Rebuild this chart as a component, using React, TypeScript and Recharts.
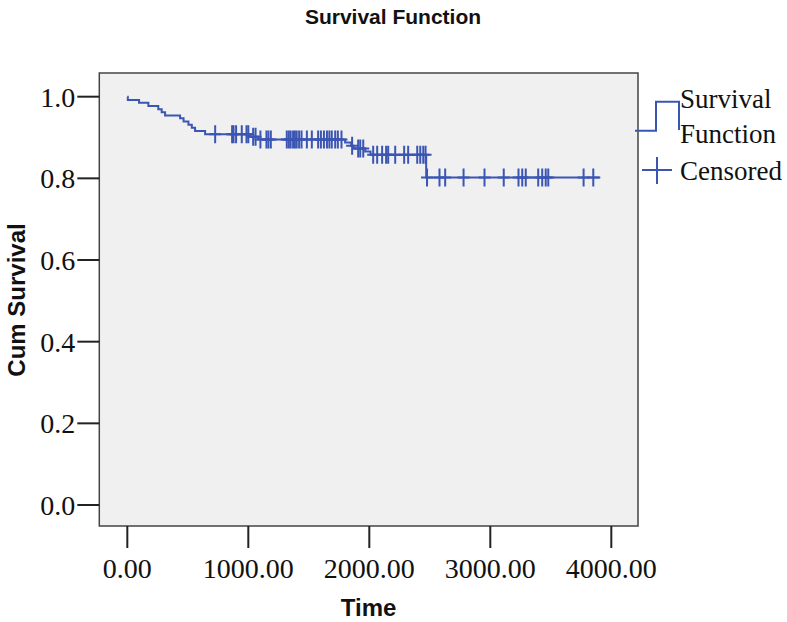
import React from 'react';
import { ComposedChart, Line, Scatter, XAxis, YAxis, ReferenceArea } from 'recharts';

// Kaplan-Meier step function (time of each step, survival after step)
const eventTimes = [0, 4, 97, 174, 256, 284, 312, 436, 465, 505, 533, 560, 643, 1015, 1081, 1800, 1850, 1870, 1966, 2010, 2470, 3909];
const survivalValues = [1.0, 0.992, 0.985, 0.977, 0.969, 0.962, 0.954, 0.947, 0.939, 0.931, 0.924, 0.916, 0.908, 0.902, 0.895, 0.888, 0.880, 0.873, 0.866, 0.858, 0.802, 0.802];

// Censored observation times
const censoredTimes = [
  726, 866, 878, 899, 946, 985, 1000, 1040, 1060, 1100, 1150, 1166, 1186,
  1318, 1335, 1350, 1370, 1385, 1400, 1420, 1440, 1484, 1525, 1577, 1600,
  1625, 1650, 1670, 1690, 1718, 1740, 1770, 1858, 1908, 1925, 1950, 2032,
  2065, 2106, 2139, 2156, 2214, 2288, 2321, 2396, 2421, 2446, 2465, 2477,
  2580, 2627, 2779, 2952, 3111, 3233, 3264, 3293, 3396, 3429, 3458, 3479,
  3771, 3851,
];

const xTicks = [0, 1000, 2000, 3000, 4000];
const yTicks = [0, 0.2, 0.4, 0.6, 0.8, 1.0];

const BLUE = '#3b55b3';

const survData = eventTimes.map((t, i) => ({ t, s: survivalValues[i] }));
const levelAt = (t: number) => {
  let s = survivalValues[0];
  for (let i = 0; i < eventTimes.length; i++) {
    if (eventTimes[i] <= t) s = survivalValues[i];
  }
  return s;
};
const censData = censoredTimes.map((t) => ({ t, s: levelAt(t) }));

const Cross = (props: any) => {
  const { cx, cy } = props;
  if (cx == null || cy == null) return null;
  return (
    <g>
      <line x1={cx - 6} x2={cx + 6} y1={cy} y2={cy} stroke={BLUE} strokeWidth={2} />
      <line x1={cx} x2={cx} y1={cy - 9} y2={cy + 9} stroke={BLUE} strokeWidth={2} />
    </g>
  );
};

const serif = 'Liberation Serif';
const sans = 'Liberation Sans';

export default function App() {
  return (
    <div style={{ position: 'absolute', left: 0, top: 0, width: 787, height: 622, background: '#fff' }}>
      <ComposedChart width={787} height={622} margin={{ top: 73, right: 149, bottom: 0, left: 0 }}>
        <XAxis
          type="number"
          dataKey="t"
          domain={[-231.5, 4220.6]}
          allowDataOverflow
          ticks={xTicks}
          tickFormatter={(v: number) => v.toFixed(2)}
          height={96}
          axisLine={false}
          tickSize={22}
          tickMargin={10}
          tickLine={{ stroke: '#222', strokeWidth: 2 }}
          tick={{ fontFamily: serif, fontSize: 28, fill: '#111' }}
          label={{ value: 'Time', position: 'insideBottom', offset: 6, style: { fontFamily: sans, fontWeight: 'bold', fontSize: 24, fill: '#111' } }}
        />
        <YAxis
          type="number"
          dataKey="s"
          domain={[-0.0514, 1.058]}
          allowDataOverflow
          ticks={yTicks}
          tickFormatter={(v: number) => v.toFixed(1)}
          width={99.3}
          axisLine={false}
          tickSize={22}
          tickMargin={2}
          tickLine={{ stroke: '#222', strokeWidth: 2 }}
          tick={{ fontFamily: serif, fontSize: 28, fill: '#111' }}
        />
        <ReferenceArea
          x1={-231.5}
          x2={4220.6}
          y1={-0.0514}
          y2={1.058}
          fill="#f0f0f0"
          fillOpacity={1}
          stroke="#444"
          strokeWidth={1.5}
          ifOverflow="visible"
        />
        <Line
          data={survData}
          dataKey="s"
          type="stepAfter"
          stroke={BLUE}
          strokeWidth={2}
          dot={false}
          activeDot={false}
          isAnimationActive={false}
        />
        <Scatter data={censData} dataKey="s" shape={Cross} isAnimationActive={false} />
      </ComposedChart>
      <svg width={787} height={622} style={{ position: 'absolute', left: 0, top: 0, pointerEvents: 'none' }}>
        <text x={393} y={16} textAnchor="middle" dominantBaseline="central" fontFamily={sans} fontWeight="bold" fontSize={21} fill="#111">
          Survival Function
        </text>
        <text transform="translate(16,300) rotate(-90)" textAnchor="middle" dominantBaseline="central" fontFamily={sans} fontWeight="bold" fontSize={24} fill="#111">
          Cum Survival
        </text>
        <path d="M635,130.7 H656 V101.7 H679 V130" fill="none" stroke={BLUE} strokeWidth={2} />
        <line x1={642} x2={672} y1={170} y2={170} stroke={BLUE} strokeWidth={2} />
        <line x1={657} x2={657} y1={157} y2={184} stroke={BLUE} strokeWidth={2} />
        <text x={680} y={108} fontFamily={serif} fontSize={27} fill="#111">Survival</text>
        <text x={680} y={143} fontFamily={serif} fontSize={27} fill="#111">Function</text>
        <text x={680} y={180} fontFamily={serif} fontSize={27} fill="#111">Censored</text>
      </svg>
    </div>
  );
}
